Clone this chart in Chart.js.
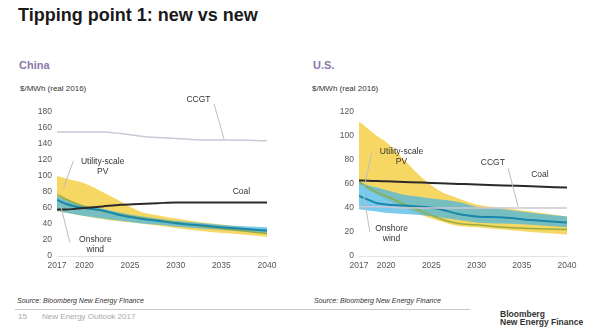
<!DOCTYPE html>
<html>
<head>
<meta charset="utf-8">
<script src="https://cdn.jsdelivr.net/npm/chart.js@4.4.1/dist/chart.umd.min.js"></script>
<style>
  html, body { margin: 0; padding: 0; background: #fff; }
  body { width: 600px; height: 334px; position: relative; overflow: hidden; font-family: "Liberation Sans", Arial, sans-serif; }
  .abs { position: absolute; white-space: nowrap; }
  #title { left: 18px; top: 5px; font-size: 18px; font-weight: bold; color: #1a1a1a; }
  .region { font-size: 11px; font-weight: bold; color: #8a78a8; }
  .unit { font-size: 8px; color: #333; }
  .src { font-size: 7px; font-style: italic; color: #333; }
  #rule { left: 15px; top: 309px; width: 455px; height: 0; border-top: 1px solid #c8c8c8; }
  .foot { font-size: 8px; color: #a8a8a8; }
  .logo { font-size: 8.5px; font-weight: bold; color: #333; }
  canvas { position: absolute; }
</style>
</head>
<body>
<div id="title" class="abs">Tipping point 1: new vs new</div>
<div class="abs region" style="left:19px;top:59px;">China</div>
<div class="abs region" style="left:313px;top:59px;">U.S.</div>
<div class="abs unit" style="left:20px;top:84px;">$/MWh (real 2016)</div>
<div class="abs unit" style="left:312px;top:84px;">$/MWh (real 2016)</div>

<canvas id="cn" width="290" height="180" style="left:0px;top:95px;"></canvas>
<canvas id="us" width="290" height="180" style="left:300px;top:95px;"></canvas>

<div class="abs src" style="left:17px;top:297px;">Source: Bloomberg New Energy Finance</div>
<div class="abs src" style="left:314px;top:297px;">Source: Bloomberg New Energy Finance</div>
<div id="rule" class="abs"></div>
<div class="abs foot" style="left:18px;top:312px;">15</div>
<div class="abs foot" style="left:42px;top:312px;">New Energy Outlook 2017</div>
<div class="abs logo" style="left:500px;top:310px;line-height:8px;">Bloomberg<br>New Energy Finance</div>

<script>
// Sample years shared by every series
const years = [2017, 2018, 2019, 2020, 2022, 2024, 2026, 2028, 2030, 2033, 2036, 2040];
const yearTicks = [2017, 2020, 2025, 2030, 2035, 2040];

// China, $/MWh (real 2016)
const cnCCGT      = [155, 155, 155, 155, 155, 153, 150, 148, 147, 145, 145, 144];
const cnCoal      = [58, 58, 59, 60, 62, 64, 65, 66, 67, 67, 67, 67];
const cnPVHigh    = [100, 97, 94, 91, 80, 68, 56, 51, 47, 42, 38, 32];
const cnPVLow     = [56, 54, 52, 50, 46, 43, 41, 38, 35, 31, 28, 24];
const cnPV        = [77, 71, 66, 62, 56, 52, 48, 45, 42, 37, 33, 28];
const cnWindHigh  = [75, 70, 66, 63, 59, 54, 50, 47, 44, 41, 38, 36];
const cnWindLow   = [57, 54, 52, 50, 47, 44, 41, 39, 37, 34, 32, 29];
const cnWind      = [70, 65, 62, 60, 57, 51, 47, 44, 41, 38, 35, 32];
const cnYMax = 180;

// U.S., $/MWh (real 2016)
const usCCGT      = [41, 41, 41, 41, 40, 40, 40, 40, 40, 40, 40, 40];
const usCoal      = [63, 62.7, 62.5, 62.2, 61.7, 61.2, 60.6, 60.1, 59.6, 58.8, 58.1, 57];
const usPVHigh    = [112, 106, 100, 95, 80, 65, 54, 48, 43, 40, 37, 33];
const usPVLow     = [60, 55, 51, 47, 40, 34, 29, 25, 24, 22, 20, 18];
const usPV        = [62, 57, 53, 50, 43, 37, 31, 27, 26, 24, 23, 22];
const usWindHigh  = [62, 59, 57, 55, 51, 49, 47, 45, 41, 39, 36, 33];
const usWindLow   = [39, 38, 37, 36, 35, 34, 32, 30, 28, 27, 26, 24];
const usWind      = [50, 47, 44, 43, 42, 41, 39, 35, 33, 32, 30, 28];
const usYMax = 120;

const FONT = "'Liberation Sans', Arial, sans-serif";
const YELLOW = 'rgba(246, 208, 72, 0.85)';
const BLUE = 'rgba(70, 182, 230, 0.72)';

function pts(vals) { return vals.map((v, i) => ({ x: years[i], y: v })); }

function edge(vals, fill, color, order) {
  return { data: pts(vals), borderWidth: 0, pointRadius: 0, cubicInterpolationMode: 'monotone',
           fill: fill, backgroundColor: color, borderColor: 'transparent', order: order };
}
function line(vals, color, width, order) {
  return { data: pts(vals), borderWidth: width, pointRadius: 0, cubicInterpolationMode: 'monotone',
           fill: false, borderColor: color, order: order };
}

// Draws the series labels with their thin leader lines
const labelPlugin = {
  id: 'seriesLabels',
  afterDatasetsDraw(chart, args, opts) {
    const ctx = chart.ctx, xs = chart.scales.x, ys = chart.scales.y;
    ctx.save();
    ctx.font = "8.5px " + FONT;
    ctx.fillStyle = '#333';
    ctx.textAlign = 'center';
    ctx.textBaseline = 'middle';
    (opts.items || []).forEach(it => {
      if (it.lead) {
        ctx.strokeStyle = '#bdbdbd';
        ctx.lineWidth = 1;
        ctx.beginPath();
        ctx.moveTo(xs.getPixelForValue(it.lead[0]), ys.getPixelForValue(it.lead[1]));
        ctx.lineTo(xs.getPixelForValue(it.lead[2]), ys.getPixelForValue(it.lead[3]));
        ctx.stroke();
      }
      const x = xs.getPixelForValue(it.x), y = ys.getPixelForValue(it.y);
      it.text.forEach((t, k) => ctx.fillText(t, x, y + k * 10));
    });
    ctx.restore();
  }
};

function makeChart(id, s, yMax, yAxisWidth, items) {
  new Chart(document.getElementById(id), {
    type: 'line',
    data: {
      datasets: [
        edge(s.pvHigh, '+1', YELLOW, 8),
        edge(s.pvLow, false, 'transparent', 7),
        edge(s.windHigh, '+1', BLUE, 6),
        edge(s.windLow, false, 'transparent', 5),
        line(s.pv, 'rgba(140, 170, 60, 0.9)', 1.5, 4),
        line(s.wind, '#1a86aa', 2, 3),
        line(s.ccgt, '#cdc8d6', 1.5, 2),
        line(s.coal, '#2a2a2a', 2, 1)
      ]
    },
    options: {
      responsive: false,
      animation: false,
      layout: { padding: { left: 0, right: 23, top: 17, bottom: 0 } },
      plugins: { legend: { display: false }, tooltip: { enabled: false }, seriesLabels: { items: items } },
      scales: {
        x: {
          type: 'linear', min: 2017, max: 2040,
          afterBuildTicks: sc => { sc.ticks = yearTicks.map(v => ({ value: v })); },
          afterFit: sc => { sc.height = 19; },
          grid: { display: false, drawTicks: false },
          border: { display: true, color: '#e4e4e4', dash: [1, 2] },
          ticks: { color: '#555', font: { family: FONT, size: 8.5 }, padding: 5, maxRotation: 0,
                   autoSkip: false, callback: v => String(v) }
        },
        y: {
          min: 0, max: yMax,
          afterFit: sc => { sc.width = yAxisWidth; },
          grid: { display: false, drawTicks: false },
          border: { display: false },
          ticks: { stepSize: 20, color: '#555', font: { family: FONT, size: 8.5 }, padding: 5 }
        }
      }
    },
    plugins: [labelPlugin]
  });
}

makeChart('cn', {
  pvHigh: cnPVHigh, pvLow: cnPVLow, pv: cnPV,
  windHigh: cnWindHigh, windLow: cnWindLow, wind: cnWind,
  ccgt: cnCCGT, coal: cnCoal
}, cnYMax, 57, [
  { text: ['CCGT'], x: 2032.5, y: 196, lead: [2034.2, 190, 2035.3, 146] },
  { text: ['Utility-scale', 'PV'], x: 2022, y: 118, lead: [2018.8, 119, 2017.7, 85] },
  { text: ['Coal'], x: 2037.2, y: 80 },
  { text: ['Onshore', 'wind'], x: 2021.2, y: 20, lead: [2018.4, 17, 2017.4, 63] }
]);

makeChart('us', {
  pvHigh: usPVHigh, pvLow: usPVLow, pv: usPV,
  windHigh: usWindHigh, windLow: usWindLow, wind: usWind,
  ccgt: usCCGT, coal: usCoal
}, usYMax, 59, [
  { text: ['Utility-scale', 'PV'], x: 2021.7, y: 87, lead: [2018.4, 86, 2017.6, 58] },
  { text: ['CCGT'], x: 2031.8, y: 78, lead: [2033.5, 73, 2034.6, 41] },
  { text: ['Coal'], x: 2037, y: 68 },
  { text: ['Onshore', 'wind'], x: 2020.6, y: 23, lead: [2018.2, 20, 2017.5, 52] }
]);
</script>
</body>
</html>
